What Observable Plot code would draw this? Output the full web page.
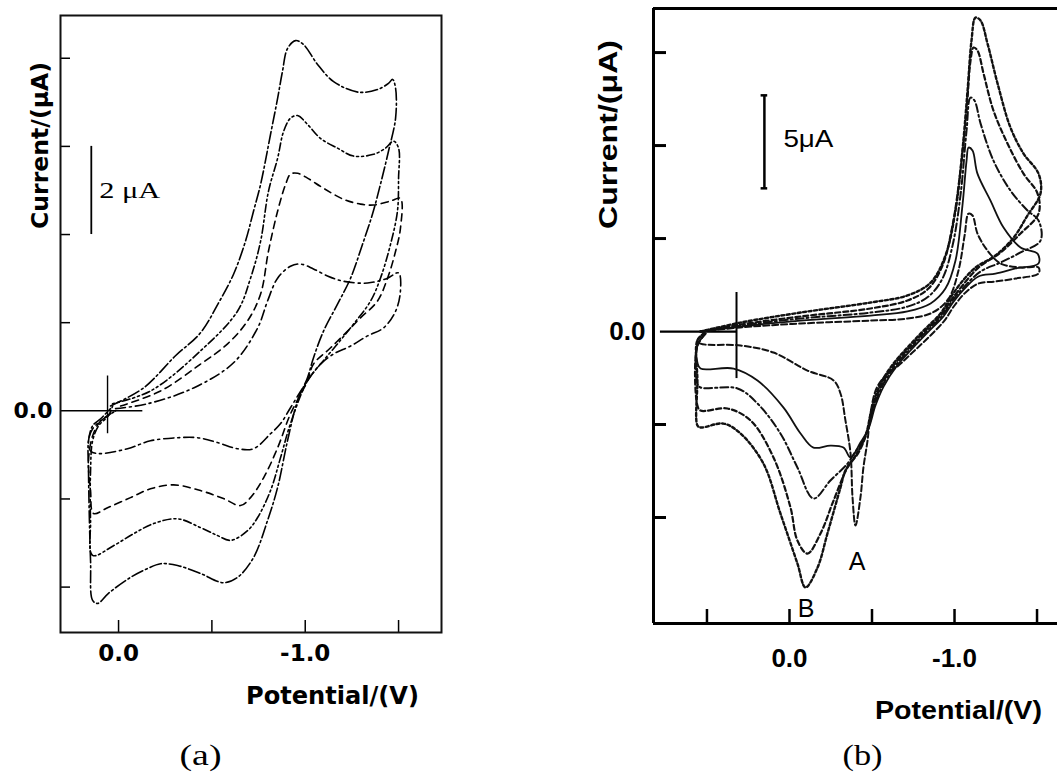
<!DOCTYPE html>
<html><head><meta charset="utf-8">
<script src="https://cdn.jsdelivr.net/npm/d3@7"></script>
<script src="https://cdn.jsdelivr.net/npm/@observablehq/plot@0.6"></script>
<style>
html,body{margin:0;padding:0;background:#fff;}
#wrap{position:relative;width:1057px;height:780px;overflow:hidden;background:#fff;}
#pa{position:absolute;left:0;top:0;}
#pb{position:absolute;left:520px;top:0;}
</style></head>
<body><div id="wrap"><div id="pa"></div><div id="pb"></div></div>
<script>
// ---------- Panel (a) data: [Potential (V), Current (uA)] ----------
const xDomainA = [0.311, -1.730];
const yDomainA = [-5.03, 8.97];
const xTicksA = [0, -0.5, -1.0, -1.5];
const xLabelsA = [0, -1.0];
const yTicksA = [8, 6, 4, 2, -2, -4];
const yLabelsA = [0];
const scaleBarA = {V: 0.146, from: 4, to: 6, label: "2 \u03bcA"};
const zeroLineA = {from: 0.311, to: -0.13};
const startMarkA = {V: 0.059, lo: -0.52, hi: 0.79};

const curveA1 = [[0.043,0.11],[-0.134,0.52],[-0.305,1.25],[-0.439,1.77],[-0.536,2.45],[-0.616,3.10],[-0.680,3.85],[-0.723,4.53],[-0.761,5.14],[-0.814,6.27],[-0.852,7.09],[-0.878,7.70],[-0.905,8.22],[-0.948,8.40],[-0.991,8.31],[-1.066,7.86],[-1.152,7.47],[-1.285,7.23],[-1.387,7.29],[-1.446,7.43],[-1.468,7.52],[-1.484,7.32],[-1.484,6.64],[-1.446,5.89],[-1.403,5.14],[-1.360,4.46],[-1.307,3.78],[-1.243,3.01],[-1.173,2.42],[-1.098,1.81],[-1.044,1.20],[-1.012,0.75],[-0.959,0.23],[-0.905,-0.68],[-0.852,-1.74],[-0.798,-2.49],[-0.723,-3.33],[-0.637,-3.78],[-0.562,-3.90],[-0.439,-3.69],[-0.316,-3.51],[-0.225,-3.47],[-0.155,-3.58],[-0.064,-3.78],[0.054,-4.14],[0.112,-4.37],[0.139,-4.30],[0.150,-3.40],[0.161,-1.36],[0.161,-0.68],[0.139,-0.34],[0.096,-0.18],[0.043,0.05]];
const curveA2 = [[0.032,0.16],[-0.171,0.45],[-0.439,1.36],[-0.637,2.26],[-0.707,3.01],[-0.761,3.85],[-0.803,4.98],[-0.852,5.73],[-0.884,6.34],[-0.921,6.64],[-0.959,6.70],[-1.012,6.50],[-1.082,6.18],[-1.173,5.96],[-1.259,5.78],[-1.366,5.82],[-1.430,5.96],[-1.473,6.12],[-1.500,5.96],[-1.500,5.28],[-1.494,4.53],[-1.457,3.78],[-1.403,3.01],[-1.350,2.49],[-1.259,1.97],[-1.173,1.52],[-1.082,1.06],[-1.012,0.68],[-0.921,-0.29],[-0.868,-1.06],[-0.814,-1.81],[-0.745,-2.42],[-0.691,-2.72],[-0.600,-2.94],[-0.530,-2.83],[-0.439,-2.65],[-0.316,-2.45],[-0.187,-2.56],[-0.080,-2.79],[0.027,-3.06],[0.139,-3.28],[0.150,-2.49],[0.150,-1.36],[0.139,-0.68],[0.107,-0.34],[0.054,-0.11],[0.032,0.11]];
const curveA3 = [[-0.011,0.11],[-0.225,0.45],[-0.439,1.06],[-0.584,1.52],[-0.691,2.04],[-0.761,2.65],[-0.803,3.62],[-0.852,4.53],[-0.895,5.14],[-0.921,5.37],[-0.959,5.39],[-1.012,5.28],[-1.098,5.05],[-1.205,4.80],[-1.296,4.69],[-1.366,4.67],[-1.457,4.76],[-1.510,4.82],[-1.510,4.14],[-1.484,3.62],[-1.441,3.01],[-1.387,2.49],[-1.296,2.11],[-1.227,1.81],[-1.136,1.43],[-1.044,1.06],[-1.012,0.68],[-0.921,-0.07],[-0.852,-0.84],[-0.777,-1.52],[-0.707,-1.97],[-0.653,-2.15],[-0.562,-1.99],[-0.439,-1.81],[-0.295,-1.68],[-0.171,-1.77],[-0.064,-1.97],[0.059,-2.20],[0.134,-2.33],[0.150,-1.81],[0.161,-1.13],[0.139,-0.57],[0.096,-0.23],[0.016,0.00]];
const curveA4 = [[0.016,0.05],[-0.155,0.16],[-0.402,0.52],[-0.616,1.09],[-0.745,1.88],[-0.798,2.49],[-0.852,3.01],[-0.921,3.28],[-0.975,3.33],[-1.044,3.22],[-1.119,3.06],[-1.205,2.94],[-1.334,2.90],[-1.441,3.01],[-1.500,3.13],[-1.510,2.72],[-1.484,2.26],[-1.419,1.88],[-1.334,1.70],[-1.243,1.47],[-1.152,1.29],[-1.082,1.06],[-1.012,0.68],[-0.921,0.07],[-0.868,-0.29],[-0.814,-0.52],[-0.723,-0.86],[-0.637,-0.86],[-0.530,-0.72],[-0.423,-0.61],[-0.316,-0.61],[-0.171,-0.68],[-0.048,-0.86],[0.112,-0.97],[0.150,-0.91],[0.161,-0.68],[0.139,-0.41],[0.096,-0.23],[0.016,0.00]];

// ---------- Panel (b) data ----------
const xDomainB = [0.824, -1.624];
const yDomainB = [-15.7, 17.37];
const xTicksB = [0.5, 0, -0.5, -1.0, -1.5];
const xLabelsB = [0, -1.0];
const yTicksB = [15, 10, 5, -5, -10];
const yLabelsB = [0];
const scaleBarB = {V: 0.152, from: 7.7, to: 12.7, cap: 0.02, label: "5\u03bcA"};
const zeroLineB = {from: 0.782, to: 0.315};
const startMarkB = {V: 0.321, lo: -2.53, hi: 2.1};
const peakLabelsB = [{label: "A", V: -0.41, I: -12.4}, {label: "B", V: -0.10, I: -14.9}];

const curveB1 = [[0.539,0],[0.297,0.48],[-0.067,1.02],[-0.491,1.56],[-0.715,1.94],[-0.855,2.63],[-0.945,4.09],[-1.006,6.51],[-1.048,9.73],[-1.079,12.96],[-1.103,15.65],[-1.127,16.88],[-1.158,16.72],[-1.200,15.48],[-1.261,13.33],[-1.339,10.97],[-1.418,9.57],[-1.509,8.49],[-1.521,7.42],[-1.442,6.24],[-1.358,5.05],[-1.248,4.09],[-1.127,3.44],[-1.036,2.58],[-0.976,1.83],[-0.915,0.97],[-0.812,0.05],[-0.715,-0.86],[-0.630,-1.72],[-0.552,-2.80],[-0.503,-3.98],[-0.461,-5.59],[-0.400,-6.67],[-0.339,-7.47],[-0.309,-8.39],[-0.230,-10.86],[-0.170,-12.69],[-0.097,-13.76],[-0.048,-12.47],[0.055,-9.78],[0.158,-7.10],[0.297,-5.48],[0.400,-4.95],[0.539,-5.16],[0.558,-5.05],[0.558,-2.63],[0.558,-0.48],[0.509,-0.05]];
const curveB2 = [[0.539,0],[0.297,0.38],[-0.067,0.81],[-0.491,1.24],[-0.715,1.67],[-0.842,2.31],[-0.927,3.55],[-0.988,5.70],[-1.036,8.66],[-1.073,11.88],[-1.097,14.57],[-1.115,15.27],[-1.139,15.11],[-1.176,13.87],[-1.236,11.88],[-1.321,10.11],[-1.418,8.49],[-1.503,7.42],[-1.509,6.34],[-1.400,5.27],[-1.279,4.25],[-1.145,3.44],[-1.048,2.47],[-0.982,1.72],[-0.921,0.91],[-0.818,0],[-0.721,-0.91],[-0.636,-1.77],[-0.558,-2.85],[-0.509,-3.98],[-0.467,-5.48],[-0.418,-6.51],[-0.352,-7.31],[-0.267,-9.09],[-0.188,-10.86],[-0.109,-11.94],[-0.048,-11.24],[-0.006,-9.46],[0.097,-6.77],[0.236,-4.78],[0.376,-4.14],[0.539,-4.25],[0.558,-3.98],[0.558,-0.75],[0.509,-0.11]];
const curveB3 = [[0.539,0],[0.297,0.32],[-0.067,0.70],[-0.491,1.02],[-0.715,1.34],[-0.842,1.88],[-0.927,2.85],[-0.988,4.62],[-1.036,7.31],[-1.073,10.81],[-1.097,12.58],[-1.121,12.42],[-1.158,11.18],[-1.236,9.19],[-1.339,7.58],[-1.442,6.51],[-1.509,5.97],[-1.521,4.89],[-1.400,4.25],[-1.279,3.71],[-1.158,3.23],[-1.055,2.37],[-0.988,1.67],[-0.927,0.86],[-0.824,-0.05],[-0.727,-0.97],[-0.642,-1.83],[-0.564,-2.90],[-0.515,-3.98],[-0.473,-5.32],[-0.442,-5.91],[-0.388,-6.61],[-0.352,-7.10],[-0.248,-8.01],[-0.145,-8.98],[-0.048,-7.31],[0.055,-5.48],[0.194,-3.87],[0.315,-3.06],[0.539,-3.01],[0.558,-2.80],[0.558,-0.75],[0.509,-0.11]];
const curveB4 = [[0.539,0],[0.297,0.27],[-0.067,0.59],[-0.491,0.86],[-0.715,1.08],[-0.855,1.51],[-0.945,2.31],[-1.006,3.82],[-1.048,6.77],[-1.073,9.19],[-1.085,9.89],[-1.109,9.73],[-1.139,8.49],[-1.218,7.04],[-1.297,5.59],[-1.400,4.52],[-1.503,4.19],[-1.509,3.66],[-1.370,3.39],[-1.248,3.12],[-1.145,2.96],[-1.061,2.31],[-0.994,1.61],[-0.933,0.81],[-0.830,-0.11],[-0.733,-1.02],[-0.648,-1.88],[-0.570,-2.96],[-0.521,-3.98],[-0.479,-5.22],[-0.430,-5.97],[-0.370,-6.77],[-0.327,-6.24],[-0.248,-6.13],[-0.145,-6.24],[-0.067,-5.48],[0.036,-4.09],[0.194,-2.63],[0.339,-1.99],[0.539,-1.99],[0.558,-1.67],[0.558,-0.75],[0.509,-0.11]];
const curveB5 = [[0.539,0],[0.297,0.22],[-0.067,0.43],[-0.491,0.59],[-0.715,0.70],[-0.867,1.02],[-0.964,1.77],[-1.024,3.28],[-1.061,5.16],[-1.085,6.34],[-1.109,6.24],[-1.139,5.27],[-1.200,4.35],[-1.279,3.66],[-1.400,3.44],[-1.509,3.44],[-1.509,3.12],[-1.370,2.85],[-1.248,2.69],[-1.145,2.58],[-1.067,2.10],[-1.000,1.40],[-0.939,0.59],[-0.842,-0.32],[-0.745,-1.13],[-0.661,-1.83],[-0.582,-2.37],[-0.527,-3.06],[-0.491,-4.41],[-0.473,-5.86],[-0.448,-7.31],[-0.430,-8.92],[-0.400,-10.43],[-0.382,-8.92],[-0.370,-6.56],[-0.339,-4.78],[-0.309,-3.33],[-0.267,-2.63],[-0.109,-2.10],[0.097,-1.13],[0.297,-0.75],[0.539,-0.65],[0.558,-0.48],[0.521,-0.11]];

const pts = arr => arr.map(([V, I]) => ({V, I}));

function stretch(svg, map) {
  d3.select(svg).selectAll("text").each(function () {
    const t = this.textContent;
    if (map[t] !== undefined) {
      this.setAttribute("textLength", map[t]);
      this.setAttribute("lengthAdjust", "spacingAndGlyphs");
    }
  });
}

// ---------- Panel (a) ----------
const lineA = (data, dash) => Plot.line(pts(data), {x: "V", y: "I", stroke: "#000", strokeWidth: 1.6, strokeDasharray: dash, curve: "catmull-rom"});
const chartA = Plot.plot({
  width: 520, height: 780,
  marginLeft: 60, marginRight: 79, marginTop: 15, marginBottom: 148,
  x: {domain: xDomainA},
  y: {domain: yDomainA},
  style: {fontFamily: "DejaVu Sans", fontWeight: "bold", background: "transparent", overflow: "visible"},
  marks: [
    Plot.ruleY(yTicksA, {insetRight: 371, strokeWidth: 1.5}),
    Plot.ruleX(xTicksA, {insetTop: 605, strokeWidth: 1.5}),
    Plot.ruleY([0], {x1: zeroLineA.from, x2: zeroLineA.to, strokeWidth: 1.6}),
    Plot.ruleX([startMarkA.V], {y1: startMarkA.lo, y2: startMarkA.hi, strokeWidth: 1.4}),
    Plot.ruleX([scaleBarA.V], {y1: scaleBarA.from, y2: scaleBarA.to, strokeWidth: 1.8}),
    Plot.text([scaleBarA.label], {x: scaleBarA.V, y: (scaleBarA.from + scaleBarA.to) / 2, dx: 8, textAnchor: "start", fontFamily: "Liberation Serif", fontWeight: "normal", fontSize: 24}),
    lineA(curveA1, "12,3,2,3"),
    lineA(curveA2, "2,3,2,3,8,3"),
    lineA(curveA3, "7,5"),
    lineA(curveA4, "10,4,2,4"),
    Plot.frame({stroke: "#111", strokeWidth: 2}),
    Plot.axisX({ticks: xLabelsA, tickSize: 0, tickPadding: 12, tickFormat: d => d.toFixed(1), fontSize: 23, fontWeight: "bold", label: null}),
    Plot.axisY({ticks: yLabelsA, tickSize: 0, tickPadding: 8, tickFormat: d => d.toFixed(1), fontSize: 22, fontWeight: "bold", label: null}),
    Plot.text(["Potential/(V)"], {frameAnchor: "bottom-left", dx: 272, dy: 71, textAnchor: "middle", fontSize: 24}),
    Plot.text(["Current/(\u03bcA)"], {frameAnchor: "top-left", dx: -29, dy: 130, rotate: -90, textAnchor: "middle", fontSize: 23}),
    Plot.text(["(a)"], {frameAnchor: "bottom-left", dx: 140, dy: 132, textAnchor: "middle", fontFamily: "Liberation Serif", fontWeight: "normal", fontSize: 29})
  ]
});
stretch(chartA, {"Potential/(V)": 173, "Current/(\u03bcA)": 167, "(a)": 42, "2 \u03bcA": 61});
document.getElementById("pa").appendChild(chartA);

// ---------- Panel (b) ----------
const lineB = (data, dash, w) => Plot.line(pts(data), {x: "V", y: "I", stroke: "#111", strokeWidth: w, strokeDasharray: dash, curve: "catmull-rom"});
const chartB = Plot.plot({
  width: 537, height: 780,
  marginLeft: 133, marginRight: 0, marginTop: 8, marginBottom: 157,
  x: {domain: xDomainB},
  y: {domain: yDomainB},
  style: {fontFamily: "Liberation Sans", fontWeight: "bold", background: "transparent", overflow: "visible"},
  marks: [
    Plot.ruleY(yTicksB, {insetRight: 391, strokeWidth: 3}),
    Plot.ruleX(xTicksB, {insetTop: 601, strokeWidth: 2.5}),
    Plot.ruleY([0], {x1: zeroLineB.from, x2: zeroLineB.to, strokeWidth: 2.2}),
    Plot.ruleX([startMarkB.V], {y1: startMarkB.lo, y2: startMarkB.hi, strokeWidth: 2}),
    Plot.ruleX([scaleBarB.V], {y1: scaleBarB.from, y2: scaleBarB.to, strokeWidth: 2.5}),
    Plot.ruleY([scaleBarB.from, scaleBarB.to], {x1: scaleBarB.V + scaleBarB.cap, x2: scaleBarB.V - scaleBarB.cap, strokeWidth: 2.5}),
    Plot.text([scaleBarB.label], {x: scaleBarB.V, y: (scaleBarB.from + scaleBarB.to) / 2, dx: 19, dy: -3, textAnchor: "start", fontWeight: "normal", fontSize: 24}),
    lineB(curveB1, "3,2.5", 2.4),
    lineB(curveB2, "5,3", 2.2),
    lineB(curveB3, "8,3,2,3", 2),
    lineB(curveB4, null, 1.8),
    lineB(curveB5, "6,3", 2),
    Plot.text(peakLabelsB, {x: "V", y: "I", text: "label", fontWeight: "normal", fontSize: 25}),
    Plot.ruleX([xDomainB[0]], {strokeWidth: 3}),
    Plot.ruleY(yDomainB, {strokeWidth: 3}),
    Plot.axisX({ticks: xLabelsB, tickSize: 0, tickPadding: 25, tickFormat: d => d.toFixed(1), fontSize: 26, fontWeight: "bold", label: null}),
    Plot.axisY({ticks: yLabelsB, tickSize: 0, tickPadding: 8, tickFormat: d => d.toFixed(1), fontSize: 26, fontWeight: "bold", label: null}),
    Plot.text(["Potential/(V)"], {frameAnchor: "bottom-left", dx: 305, dy: 95, textAnchor: "middle", fontSize: 26}),
    Plot.text(["Current/(\u03bcA)"], {frameAnchor: "top-left", dx: -54, dy: 126, rotate: -90, textAnchor: "middle", fontSize: 25}),
    Plot.text(["(b)"], {frameAnchor: "bottom-left", dx: 209, dy: 141, textAnchor: "middle", fontFamily: "Liberation Serif", fontWeight: "normal", fontSize: 29})
  ]
});
stretch(chartB, {"Potential/(V)": 167, "Current/(\u03bcA)": 189, "(b)": 40, "5\u03bcA": 50});
document.getElementById("pb").appendChild(chartB);
</script>
</body></html>
